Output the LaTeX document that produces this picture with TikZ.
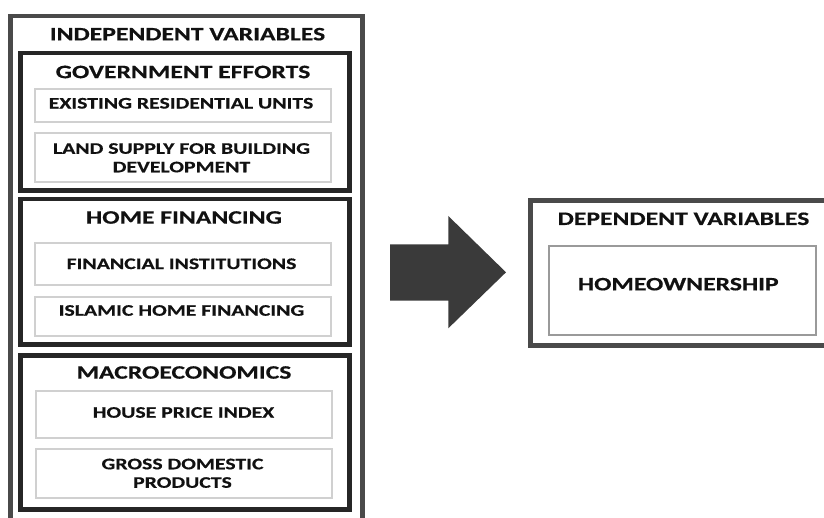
\documentclass[tikz,border=0pt]{standalone}
\usepackage{fontspec}
\setmainfont{Carlito}[FakeStretch=1.35,BoldFeatures={FakeBold=0.5}]
\definecolor{outergray}{HTML}{4A4A4A}
\definecolor{groupdark}{HTML}{262626}
\definecolor{itemgray}{HTML}{D0D0D0}
\definecolor{homegray}{HTML}{9A9A9A}
\definecolor{arrowfill}{HTML}{3A3A3A}
\definecolor{textdark}{HTML}{111111}
\begin{document}
\begin{tikzpicture}[x=1pt,y=-1pt,
  outerbox/.style={draw=outergray,line width=4.5pt,rectangle,inner sep=0pt,outer sep=0pt},
  groupbox/.style={draw=groupdark,line width=4.5pt,rectangle,inner sep=0pt,outer sep=0pt},
  itembox/.style={draw=itemgray,line width=2pt,rectangle,inner sep=0pt,outer sep=0pt},
  homebox/.style={draw=homegray,line width=2pt,rectangle,inner sep=0pt,outer sep=0pt},
  titletext/.style={inner sep=0pt,text=textdark,font=\fontsize{19}{22}\selectfont\bfseries,align=center},
  itemtext/.style={inner sep=0pt,text=textdark,font=\fontsize{16.1}{18.5}\selectfont\bfseries,align=center}
]
\useasboundingbox (0,0) rectangle (824,518);
\begin{scope}
\clip (0,0) rectangle (824,518);
% independent variables frame
\node[outerbox,minimum width=352pt,minimum height=544pt] (indep) at (186.5,288) {};
% groups
\node[groupbox,minimum width=329pt,minimum height=137.5pt] (ge) at (185,121.75) {};
\node[groupbox,minimum width=329pt,minimum height=145.5pt] (hf) at (185,271.75) {};
\node[groupbox,minimum width=329pt,minimum height=154pt] (ma) at (185,432.5) {};
% items
\node[itembox,minimum width=296pt,minimum height=33.6pt] (ex) at (183,105.5) {};
\node[itembox,minimum width=296pt,minimum height=49pt] (ls) at (183,157.8) {};
\node[itembox,minimum width=296pt,minimum height=41.4pt] (fi) at (183,264) {};
\node[itembox,minimum width=296pt,minimum height=39.3pt] (ih) at (183,316.6) {};
\node[itembox,minimum width=296pt,minimum height=47.3pt] (hpi) at (183.5,414.6) {};
\node[itembox,minimum width=296pt,minimum height=49pt] (gdp) at (183.5,473.8) {};
% dependent frame
\node[outerbox,minimum width=309.5pt,minimum height=145pt] (dep) at (685.25,273) {};
\node[homebox,minimum width=267pt,minimum height=88.7pt] (home) at (682.2,290.3) {};
\end{scope}
% texts
\node[titletext] (tindep) at (187.5,34.2) {INDEPENDENT VARIABLES};
\node[titletext] (tge) at (183,72) {GOVERNMENT EFFORTS};
\node[itemtext] (tex) at (181,103.3) {EXISTING RESIDENTIAL UNITS};
\node[itemtext] (tls) at (181.5,157.8) {LAND SUPPLY FOR BUILDING\\DEVELOPMENT};
\node[titletext] (thf) at (184,217.5) {HOME FINANCING};
\node[itemtext] (tfi) at (181.5,263.8) {FINANCIAL INSTITUTIONS};
\node[itemtext] (tih) at (181.5,310.5) {ISLAMIC HOME FINANCING};
\node[titletext] (tma) at (184,372.5) {MACROECONOMICS};
\node[itemtext] (thpi) at (183.5,412.5) {HOUSE PRICE INDEX};
\node[itemtext] (tgdp) at (182.5,473.3) {GROSS DOMESTIC\\PRODUCTS};
\node[titletext] (tdep) at (683.5,218.8) {DEPENDENT VARIABLES};
\node[titletext] (thome) at (678.3,284.2) {HOMEOWNERSHIP};
% block arrow
\fill[arrowfill] (390,244.3) -- (448.3,244.3) -- (448.3,216) -- (506,272.3)
  -- (448.3,328.3) -- (448.3,300.7) -- (390,300.7) -- cycle;
\end{tikzpicture}
\end{document}
